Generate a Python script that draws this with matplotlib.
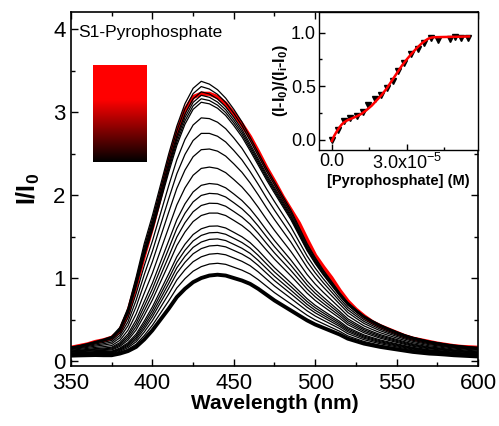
import numpy as np
import matplotlib
matplotlib.use("Agg")
import matplotlib.pyplot as plt
from matplotlib.colors import LinearSegmentedColormap
from matplotlib.ticker import MultipleLocator, FormatStrFormatter

plt.rcParams['font.family'] = ['Liberation Sans', 'DejaVu Sans']
plt.rcParams['mathtext.default'] = 'regular'

# ---- emission spectra -------------------------------------------------
wavelength = np.arange(340, 615, 5)

# normalised emission profile of the strongest intermediate spectrum
profile_high = [0.045, 0.047, 0.050, 0.055, 0.062, 0.070, 0.078, 0.088, 0.120,
                0.190, 0.300, 0.420, 0.520, 0.630, 0.740, 0.840, 0.920, 0.975,
                1.000, 0.990, 0.970, 0.940, 0.900, 0.855, 0.800, 0.745, 0.690,
                0.640, 0.590, 0.540, 0.480, 0.420, 0.370, 0.325, 0.285, 0.245,
                0.210, 0.185, 0.162, 0.145, 0.130, 0.117, 0.105, 0.094, 0.085,
                0.078, 0.071, 0.066, 0.061, 0.057, 0.054, 0.051, 0.049, 0.047,
                0.046]

# emission of the initial solution (thick black trace), I/I0
spectrum_initial = [0.060, 0.062, 0.065, 0.068, 0.070, 0.072, 0.070, 0.070, 0.090,
                    0.120, 0.170, 0.260, 0.370, 0.500, 0.630, 0.770, 0.870, 0.950,
                    1.000, 1.030, 1.040, 1.030, 1.000, 0.970, 0.930, 0.870, 0.800,
                    0.730, 0.670, 0.610, 0.550, 0.490, 0.440, 0.400, 0.360, 0.320,
                    0.270, 0.240, 0.210, 0.190, 0.170, 0.155, 0.140, 0.125, 0.110,
                    0.100, 0.090, 0.085, 0.078, 0.070, 0.065, 0.060, 0.055, 0.053,
                    0.050]

# final spectrum (red trace), I/I0
spectrum_final = [0.140, 0.150, 0.160, 0.180, 0.200, 0.230, 0.250, 0.280, 0.360,
                  0.580, 0.920, 1.280, 1.620, 2.000, 2.400, 2.750, 3.020, 3.180,
                  3.220, 3.220, 3.180, 3.100, 2.980, 2.850, 2.700, 2.520, 2.330,
                  2.160, 1.980, 1.820, 1.660, 1.460, 1.270, 1.130, 1.000, 0.850,
                  0.720, 0.620, 0.540, 0.470, 0.420, 0.380, 0.340, 0.300, 0.270,
                  0.250, 0.230, 0.210, 0.195, 0.180, 0.170, 0.165, 0.160, 0.155,
                  0.150]

# peak I/I0 of the intermediate titration spectra
titration_peaks = [1.18, 1.30, 1.40, 1.48, 1.56, 1.64, 1.80, 1.92, 2.04, 2.16,
                   2.36, 2.58, 2.77, 2.95, 3.13, 3.17, 3.21, 3.25, 3.31, 3.37]

# ---- titration curve (inset) ------------------------------------------
pyro_conc = [0.0, 0.25e-5, 0.49e-5, 0.72e-5, 0.99e-5, 1.23e-5, 1.46e-5, 1.73e-5,
             1.97e-5, 2.20e-5, 2.46e-5, 2.66e-5, 2.90e-5, 3.17e-5, 3.44e-5,
             3.71e-5, 3.98e-5, 4.24e-5, 4.74e-5, 4.94e-5, 5.18e-5, 5.45e-5]
response = [0.00, 0.094, 0.178, 0.203, 0.219, 0.256, 0.328, 0.384, 0.422, 0.484,
            0.553, 0.640, 0.719, 0.797, 0.850, 0.900, 0.953, 0.930, 0.937, 0.962,
            0.953, 0.953]

fit_conc = [0.0, 0.1e-5, 0.2e-5, 0.3e-5, 0.4e-5, 0.5e-5, 0.6e-5, 0.8e-5, 1.0e-5,
            1.2e-5, 1.4e-5, 1.6e-5, 1.8e-5, 2.0e-5, 2.2e-5, 2.4e-5, 2.6e-5,
            2.8e-5, 3.0e-5, 3.2e-5, 3.4e-5, 3.6e-5, 3.8e-5, 3.9e-5, 4.0e-5,
            4.1e-5, 4.5e-5, 5.0e-5, 5.5e-5]
fit_response = [-0.01, 0.04, 0.08, 0.115, 0.145, 0.165, 0.18, 0.20, 0.22, 0.245,
                0.28, 0.32, 0.37, 0.42, 0.48, 0.55, 0.62, 0.69, 0.75, 0.805, 0.855,
                0.90, 0.935, 0.948, 0.955, 0.958, 0.96, 0.962, 0.965]

# ---- figure -----------------------------------------------------------
fig = plt.figure(figsize=(4.99, 4.26), dpi=100)
ax = fig.add_axes([0.1423, 0.1408, 0.8156, 0.8310])

prof_hi = np.array(profile_high)
init = np.array(spectrum_initial)
prof_lo = init / init.max()
p_hi, p_lo = max(titration_peaks), init.max()
for p in titration_peaks:
    w = (p_hi - p) / (p_hi - p_lo)
    ax.plot(wavelength, p * ((1 - w) * prof_hi + w * prof_lo),
            color='black', lw=0.9, zorder=2)

ax.plot(wavelength, spectrum_final, color='red', lw=3.0, zorder=1)
ax.plot(wavelength, spectrum_initial, color='black', lw=2.8, zorder=3)

ax.set_xlim(350, 600)
ax.set_ylim(-0.06, 4.205)
ax.xaxis.set_major_locator(MultipleLocator(50))
ax.xaxis.set_minor_locator(MultipleLocator(25))
ax.yaxis.set_major_locator(MultipleLocator(1))
ax.yaxis.set_minor_locator(MultipleLocator(0.5))
ax.tick_params(which='both', direction='in', top=True, right=True, width=1.0)
ax.tick_params(which='major', length=5, labelsize=16)
ax.tick_params(axis='x', which='major', pad=5)
ax.tick_params(axis='y', which='major', pad=4)
ax.tick_params(which='minor', length=3)
for s in ax.spines.values():
    s.set_linewidth(1.2)
ax.set_xlabel('Wavelength (nm)', fontsize=15, fontweight='bold', labelpad=0)
ax.set_ylabel('I/I$_0$', fontsize=18, fontweight='bold', labelpad=8)
ax.text(354.3, 3.96, 'S1-Pyrophosphate', fontsize=12.5, va='center', ha='left')

# colour scale bar
bar_ax = fig.add_axes([93 / 499, 1 - 162 / 426, 54 / 499, 97 / 426])
cmap = LinearSegmentedColormap.from_list(
    'titr', [(0.0, 'black'), (0.64, 'red'), (1.0, 'red')])
grad = np.linspace(0, 1, 256).reshape(-1, 1)
bar_ax.imshow(grad, cmap=cmap, aspect='auto', origin='lower')
bar_ax.set_axis_off()

# inset: titration isotherm
ins = fig.add_axes([0.639, 0.648, 0.319, 0.3238])
ins.plot(pyro_conc, response, linestyle='none', marker='v', color='black',
         markersize=4.5, zorder=2)
ins.plot(fit_conc, fit_response, color='red', lw=1.8, zorder=3)
ins.set_xlim(-0.52e-5, 5.86e-5)
ins.set_ylim(-0.094, 1.193)
ins.set_xticks([0, 3e-5], ['0.0', '3.0x10$^{-5}$'])
ins.set_xticks([1.5e-5, 4.5e-5], minor=True)
ins.yaxis.set_major_locator(MultipleLocator(0.5))
ins.yaxis.set_minor_locator(MultipleLocator(0.25))
ins.yaxis.set_major_formatter(FormatStrFormatter('%.1f'))
ins.tick_params(which='both', direction='in', width=1.0)
ins.tick_params(which='major', length=4, labelsize=13, pad=2)
ins.tick_params(which='minor', length=2.5)
for s in ins.spines.values():
    s.set_linewidth(1.0)
ins.set_xlabel('[Pyrophosphate] (M)', fontsize=10.5, fontweight='bold',
               labelpad=1)
ins.set_ylabel('(I-I$_0$)/(I$_i$-I$_0$)', fontsize=11.5, fontweight='bold',
               labelpad=1)

fig.savefig('out.png', dpi=100)
